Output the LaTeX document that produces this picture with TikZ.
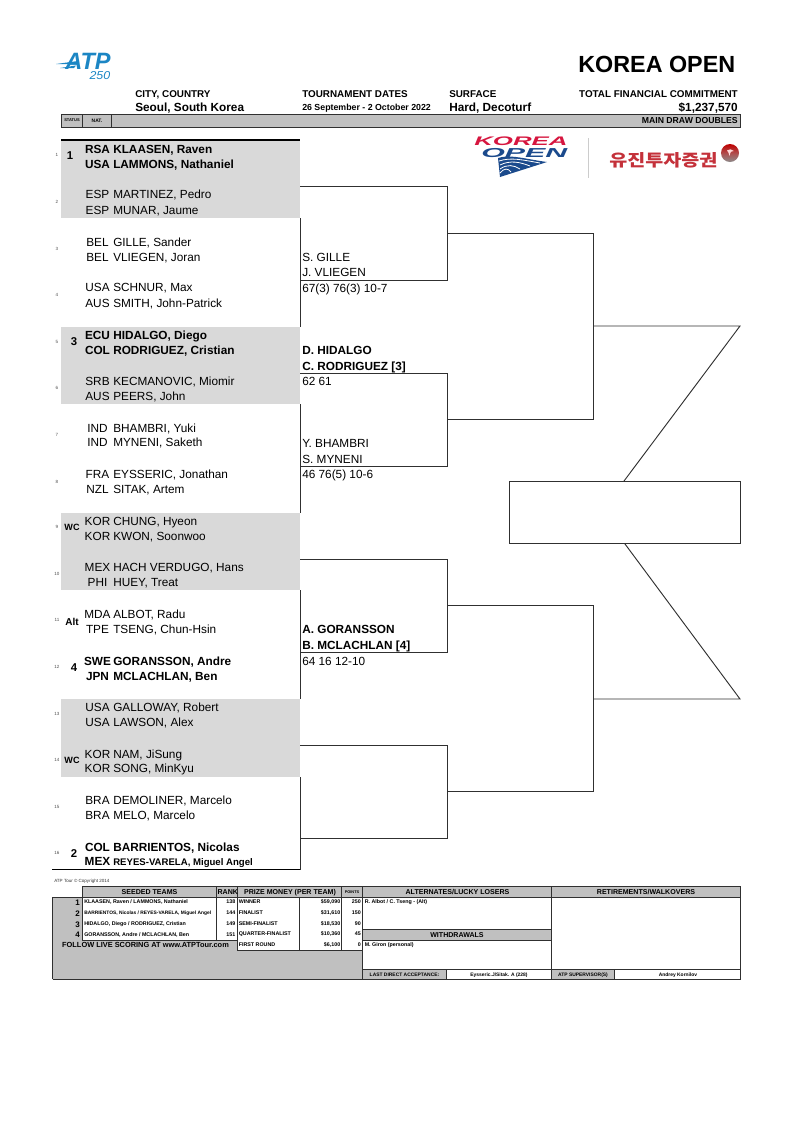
\documentclass[tikz,border=0pt]{standalone}
\usepackage{graphicx}
\usepackage{fontspec}
\setmainfont{Liberation Sans}
\newfontfamily\cjkfont{Noto Sans CJK KR}
\definecolor{band}{HTML}{D9D9D9}
\definecolor{hdr}{HTML}{C0C0C0}
\definecolor{lineg}{HTML}{303030}
\definecolor{atpblue}{HTML}{1C86C4}
\definecolor{konavy}{HTML}{1B4A8C}
\definecolor{kored}{HTML}{D6163F}
\definecolor{yured}{HTML}{C4313A}
\newcommand{\fs}[1]{\fontsize{#1}{#1}\selectfont}
\newcommand{\pl}[5]{%
 \node[nm,#5,anchor=base] (n#1) at (97.5,#2) {#3};
 \node[nm,#5,anchor=base west] (p#1) at (113,#2) {#4};}
\tikzset{
 nm/.style={inner sep=0pt,font=\fs{8.85}},
 bd/.style={font=\fs{8.85}\bfseries},
 rg/.style={},
 win/.style={inner sep=0pt,anchor=base west,font=\fs{8.85}},
 winb/.style={win,font=\fs{8.85}\bfseries},
 drawnum/.style={inner sep=0pt,font=\fs{3.4},text=black!70},
 seedm/.style={inner sep=0pt,anchor=base,font=\fs{8.5}\bfseries},
 seedw/.style={inner sep=0pt,anchor=base,font=\fs{6.8}\bfseries},
 head/.style={inner sep=0pt,font=\fs{7.4}\bfseries},
 big/.style={inner sep=0pt,font=\fs{8.85}\bfseries},
 brk/.style={draw=lineg,line width=0.7pt},
 tb/.style={draw=lineg,line width=0.75pt},
 th/.style={inner sep=0pt,anchor=base,font=\fs{5.3}\bfseries},
 tc/.style={inner sep=0pt,anchor=base west,font=\fs{4}\bfseries},
 tr/.style={inner sep=0pt,anchor=base east,font=\fs{4}\bfseries},
}
\begin{document}
\begin{tikzpicture}[x=0.75pt,y=-0.75pt]
\useasboundingbox (0,0) rectangle (794,1122);
% grey bands
\foreach \a/\b in {140/218,327/404,513/590,699/777}{\fill[band] (61,\a) rectangle (300,\b);}
% header band
\draw[fill=hdr,tb] (61,114) rectangle (740,127);
\draw[tb] (82.3,114) -- (82.3,127) (111.3,114) -- (111.3,127);
% logos
\node[inner sep=0pt,anchor=south west,text=atpblue] (atplogo) at (65,70) {\resizebox{34pt}{12.2pt}{\bfseries\itshape ATP}};
\node[inner sep=0pt,anchor=south east,text=atpblue] (atp250) at (110.5,79.5) {\resizebox{15.5pt}{6pt}{\itshape 250}};
\fill[atpblue] (56,64) -- (78,61) -- (76,64) -- cycle;
\fill[atpblue] (60,68) -- (76,65.5) -- (74,68) -- cycle;
\fill[konavy] (498,158) .. controls (510,154) and (525,159) .. (547,162) -- (500,177) -- cycle;
\draw[white,line width=0.6pt] (499,161) .. controls (511,157) and (523,160) .. (540,163)
 (500,165) .. controls (510,160) and (520,162) .. (530,166) (500,169) .. controls (507,164) and (514,165) .. (520,169)
 (500,173) .. controls (504,168) and (508,168) .. (511,172);
\node[inner sep=0pt,anchor=south west,text=kored] (kologo) at (474,146.3) {\resizebox{70pt}{6.5pt}{\bfseries\itshape KOREA}};
\node[inner sep=0pt,anchor=south west,text=konavy] (oplogo) at (481,158) {\resizebox{64.5pt}{6.8pt}{\bfseries\itshape OPEN}};
\draw[black!20,line width=0.7pt] (588,138) -- (588,178);
\node[inner sep=0pt,anchor=south west,text=yured] (yujin) at (609,168.5) {\resizebox{81pt}{10.5pt}{\cjkfont\bfseries 유진투자증권}};
\shade[top color=red!75!black,bottom color=black!45,middle color=red!55!black!70] (730,153) circle (9);
\fill[white!85!red] (727,150.5) .. controls (729,148.5) and (732,149) .. (734,151) .. controls (732,150.5) and (730,151.5) .. (729.5,156) .. controls (729,153.5) and (728.5,152) .. (727,150.5) -- cycle;
% bracket coordinates
\coordinate (a1) at (300,186.7); \coordinate (a2) at (447,186.7); \coordinate (a3) at (447,280); \coordinate (a4) at (300,280);
\coordinate (b1) at (300,373); \coordinate (b2) at (447,373); \coordinate (b3) at (447,466); \coordinate (b4) at (300,466);
\coordinate (c1) at (300,559); \coordinate (c2) at (447,559); \coordinate (c3) at (447,652); \coordinate (c4) at (300,652);
\coordinate (d1) at (300,745.7); \coordinate (d2) at (447,745.7); \coordinate (d3) at (447,838); \coordinate (d4) at (300,838);
\coordinate (e1) at (447,233.3); \coordinate (e2) at (593.5,233.3); \coordinate (e3) at (593.5,419.5); \coordinate (e4) at (447,419.5);
\coordinate (f1) at (447,605.7); \coordinate (f2) at (593.5,605.7); \coordinate (f3) at (593.5,791.7); \coordinate (f4) at (447,791.7);
\coordinate (g1) at (593.5,326); \coordinate (g2) at (740,326); \coordinate (g3) at (623.5,481.7);
\coordinate (h1) at (593.5,699); \coordinate (h2) at (740,699); \coordinate (h3) at (624.5,543.3);
\coordinate (r1) at (509.5,481.7); \coordinate (r2) at (740,543.3);
\draw[brk] (a1)--(a2)--(a3)--(a4) (b1)--(b2)--(b3)--(b4) (c1)--(c2)--(c3)--(c4) (d1)--(d2)--(d3)--(d4);
\draw[brk] (e1)--(e2)--(e3)--(e4) (f1)--(f2)--(f3)--(f4);
\draw[brk] (g1)--(g2)--(g3) (h1)--(h2)--(h3);
\draw[brk] (r1) rectangle (r2);
\foreach \a/\b in {218/327,404/513,590/699,777/870}{\draw[brk] (300,\a)--(300,\b);}
\draw[black,line width=0.8pt] (61,140)--(300,140);
\draw[black,line width=0.8pt] (52,869.5)--(300,869.5);
% top texts
\node[inner sep=0pt,anchor=base east,font=\fs{17.5}\bfseries] (title) at (735.5,72.5) {KOREA OPEN};
\node[head,anchor=base west] (t1) at (135,97) {CITY, COUNTRY};
\node[big,anchor=base west] (t2) at (135,111.5) {Seoul, South Korea};
\node[head,anchor=base west] (t3) at (302,97) {TOURNAMENT DATES};
\node[inner sep=0pt,anchor=base west,font=\fs{6.6}\bfseries] (t4) at (302,110.5) {26 September - 2 October 2022};
\node[head,anchor=base west] (t5) at (449,97) {SURFACE};
\node[big,anchor=base west] (t6) at (449,111.5) {Hard, Decoturf};
\node[head,anchor=base east] (t7) at (738,97) {TOTAL FINANCIAL COMMITMENT};
\node[big,anchor=base east] (t8) at (738,111.5) {\$1,237,570};
\node[inner sep=0pt,anchor=base east,font=\fs{6.5}\bfseries] (t9) at (738,123.5) {MAIN DRAW DOUBLES};
\node[inner sep=0pt,font=\fs{3}\bfseries] (st) at (72,120.5) {STATUS};
\node[inner sep=0pt,font=\fs{3.7}\bfseries] (nt) at (97,120.5) {NAT.};
% draw numbers
\foreach \i/\y in {1/155,2/202,3/249,4/295,5/342,6/388,7/435,8/482,9/527,10/574,11/620,12/667,13/714,14/760,15/807,16/853}{
 \node[drawnum] (dn\i) at (57,\y) {\i};}
% seeds
\node[seedm] (s1) at (70,159) {1};
\node[seedm] (s3) at (74,345.5) {3};
\node[seedw] (s9) at (72,530.5) {WC};
\node[seedw,font=\fs{7.5}\bfseries] (s11) at (72,625) {Alt};
\node[seedm] (s12) at (74,671) {4};
\node[seedw] (s14) at (72,763.5) {WC};
\node[seedm] (s16) at (74,857) {2};
% players
\pl{a}{153}{RSA}{KLAASEN, Raven}{bd}
\pl{b}{168.3}{USA}{LAMMONS, Nathaniel}{bd}
\pl{c}{198.8}{ESP}{MARTINEZ, Pedro}{rg}
\pl{d}{214.3}{ESP}{MUNAR, Jaume}{rg}
\pl{e}{246}{BEL}{GILLE, Sander}{rg}
\pl{f}{261}{BEL}{VLIEGEN, Joran}{rg}
\pl{g}{291.8}{USA}{SCHNUR, Max}{rg}
\pl{h}{307.3}{AUS}{SMITH, John-Patrick}{rg}
\pl{i}{339.3}{ECU}{HIDALGO, Diego}{bd}
\pl{j}{354.3}{COL}{RODRIGUEZ, Cristian}{bd}
\pl{k}{385.8}{SRB}{KECMANOVIC, Miomir}{rg}
\pl{l}{400.3}{AUS}{PEERS, John}{rg}
\pl{m}{432.3}{IND}{BHAMBRI, Yuki}{rg}
\pl{n}{446.8}{IND}{MYNENI, Saketh}{rg}
\pl{o}{478.3}{FRA}{EYSSERIC, Jonathan}{rg}
\pl{p}{493.8}{NZL}{SITAK, Artem}{rg}
\pl{q}{525.3}{KOR}{CHUNG, Hyeon}{rg}
\pl{r}{540.3}{KOR}{KWON, Soonwoo}{rg}
\pl{s}{571.8}{MEX}{HACH VERDUGO, Hans}{rg}
\pl{t}{586.3}{PHI}{HUEY, Treat}{rg}
\pl{u}{618.3}{MDA}{ALBOT, Radu}{rg}
\pl{v}{633.3}{TPE}{TSENG, Chun-Hsin}{rg}
\pl{w}{665.3}{SWE}{GORANSSON, Andre}{bd}
\pl{x}{680.3}{JPN}{MCLACHLAN, Ben}{bd}
\pl{y}{711.3}{USA}{GALLOWAY, Robert}{rg}
\pl{z}{726.3}{USA}{LAWSON, Alex}{rg}
\pl{aa}{758.3}{KOR}{NAM, JiSung}{rg}
\pl{ab}{772.8}{KOR}{SONG, MinKyu}{rg}
\pl{ac}{804.3}{BRA}{DEMOLINER, Marcelo}{rg}
\pl{ad}{819.3}{BRA}{MELO, Marcelo}{rg}
\pl{ae}{851.3}{COL}{BARRIENTOS, Nicolas}{bd}
\node[nm,bd,anchor=base] (naf) at (97.5,865.5) {MEX};
\node[inner sep=0pt,anchor=base west,font=\fs{7.2}\bfseries] (paf) at (113,865) {REYES-VARELA, Miguel Angel};
% winners
\node[win] (w1) at (302,261) {S. GILLE};
\node[win] (w2) at (302,276.3) {J. VLIEGEN};
\node[win] (w3) at (302,292) {67(3) 76(3) 10-7};
\node[winb] (w4) at (302,354.8) {D. HIDALGO};
\node[winb] (w5) at (302,370.3) {C. RODRIGUEZ [3]};
\node[win] (w6) at (302,385.8) {62 61};
\node[win] (w7) at (302,447.8) {Y. BHAMBRI};
\node[win] (w8) at (302,463.3) {S. MYNENI};
\node[win] (w9) at (302,478.3) {46 76(5) 10-6};
\node[winb] (w10) at (302,633.3) {A. GORANSSON};
\node[winb] (w11) at (302,649.3) {B. MCLACHLAN [4]};
\node[win] (w12) at (302,665.3) {64 16 12-10};
% bottom
\node[inner sep=0pt,anchor=base west,font=\fs{3.4},text=black!80] (copy) at (54,882.5) {ATP Tour © Copyright 2014};
\fill[hdr] (52.5,897.7) rectangle (740.3,979.3);
\draw[tb] (52.5,979.3) -- (52.5,897.7) -- (82.3,897.7);
\draw[tb] (52.5,979.3) -- (362.7,979.3);
\draw[tb,fill=hdr] (82.3,886.7) rectangle (740.3,897.7);
\foreach \x in {216,237,341.7,362.7,551.3}{\draw[tb] (\x,886.7)--(\x,897.7);}
\draw[tb,fill=white] (82.3,897.7) rectangle (216,940);
\draw[tb,fill=white] (216,897.7) rectangle (237,940);
\draw[tb,fill=white] (237,897.7) rectangle (299.3,950);
\draw[tb,fill=white] (299.3,897.7) rectangle (341.7,950);
\draw[tb,fill=white] (341.7,897.7) rectangle (362.7,950);
\draw[tb,fill=white] (362.7,897.7) rectangle (551.3,929.3);
\draw[tb,fill=hdr] (362.7,929.3) rectangle (551.3,940.5);
\draw[tb,fill=white] (362.7,940.5) rectangle (551.3,969.3);
\draw[tb,fill=white] (551.3,897.7) rectangle (740.3,969.3);
\draw[tb,fill=hdr] (362.7,969.3) rectangle (446.7,979.3);
\draw[tb,fill=white] (446.7,969.3) rectangle (551.3,979.3);
\draw[tb,fill=hdr] (551.3,969.3) rectangle (614.3,979.3);
\draw[tb,fill=white] (614.3,969.3) rectangle (740.3,979.3);
% bottom headers
\node[th] (h1t) at (149.5,894.5) {SEEDED TEAMS};
\node[th] (h2t) at (227.8,894.5) {RANK};
\node[th] (h3t) at (290,894.5) {PRIZE MONEY (PER TEAM)};
\node[inner sep=0pt,anchor=base,font=\fs{2.9}\bfseries] (h4t) at (352,893.8) {POINTS};
\node[th] (h5t) at (457.5,894.5) {ALTERNATES/LUCKY LOSERS};
\node[th] (h6t) at (646,894.5) {RETIREMENTS/WALKOVERS};
\node[th] (h7t) at (457,937.5) {WITHDRAWALS};
% seeded
\foreach \i/\y in {1/905.5,2/916.5,3/927,4/937.5}{\node[inner sep=0pt,anchor=base east,font=\fs{6}\bfseries] (sn\i) at (80,\y) {\i};}
\node[tc] (sa) at (84,903.7) {KLAASEN, Raven / LAMMONS, Nathaniel};
\node[tc,font=\fs{3.65}\bfseries] (sb) at (84,914.7) {BARRIENTOS, Nicolas / REYES-VARELA, Miguel Angel};
\node[tc] (sc) at (84,925.3) {HIDALGO, Diego / RODRIGUEZ, Cristian};
\node[tc] (sd) at (84,936) {GORANSSON, Andre / MCLACHLAN, Ben};
\node[tr] (ra) at (235.5,903.7) {138};
\node[tr] (rb) at (235.5,914.7) {144};
\node[tr] (rc) at (235.5,925.3) {149};
\node[tr] (rd) at (235.5,936) {151};
\node[tc] (pa) at (238.5,903.7) {WINNER};
\node[tc] (pb) at (238.5,914.7) {FINALIST};
\node[tc] (pc) at (238.5,925.3) {SEMI-FINALIST};
\node[tc] (pd) at (238.5,935.5) {QUARTER-FINALIST};
\node[tc] (pe) at (238.5,946.5) {FIRST ROUND};
\node[tr] (ma) at (340.5,903.7) {\$59,090};
\node[tr] (mb) at (340.5,914.7) {\$31,610};
\node[tr] (mc) at (340.5,925.3) {\$18,530};
\node[tr] (md) at (340.5,935.5) {\$10,360};
\node[tr] (me) at (340.5,946.5) {\$6,100};
\node[tr] (oa) at (361,903.7) {250};
\node[tr] (ob) at (361,914.7) {150};
\node[tr] (oc) at (361,925.3) {90};
\node[tr] (od) at (361,935.5) {45};
\node[tr] (oe) at (361,946.5) {0};
\node[inner sep=0pt,anchor=base,font=\fs{5.55}\bfseries] (follow) at (145.5,947) {FOLLOW LIVE SCORING AT www.ATPTour.com};
\node[tc] (al) at (364.5,903.7) {R. Albot / C. Tseng - (Alt)};
\node[tc] (wd) at (364.5,946.5) {M. Giron (personal)};
\node[inner sep=0pt,anchor=base,font=\fs{3.7}\bfseries] (la) at (404.5,976) {LAST DIRECT ACCEPTANCE:};
\node[inner sep=0pt,anchor=base,font=\fs{3.7}\bfseries] (lb) at (499,976) {Eysseric.J/Sitak. A (228)};
\node[inner sep=0pt,anchor=base,font=\fs{3.7}\bfseries] (lc) at (583,976) {ATP SUPERVISOR(S)};
\node[inner sep=0pt,anchor=base,font=\fs{3.7}\bfseries] (ld) at (678,976) {Andrey Kornilov};
\end{tikzpicture}
\end{document}
